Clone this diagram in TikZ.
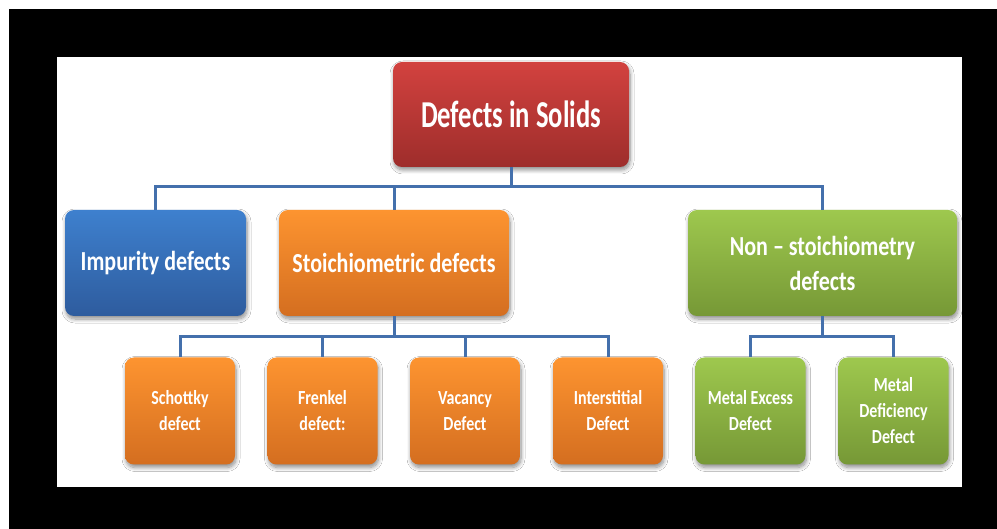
\documentclass[tikz,border=0pt]{standalone}
\usepackage{fontspec}
\newfontfamily\boxfont[FakeStretch=0.8]{Carlito}
\newfontfamily\headfont[FakeStretch=0.7]{Carlito}
\usetikzlibrary{shadows.blur}

\definecolor{redtop}{RGB}{210,66,63}
\definecolor{redbot}{RGB}{158,45,43}
\definecolor{bluetop}{RGB}{62,128,206}
\definecolor{bluebot}{RGB}{46,92,158}
\definecolor{orangetop}{RGB}{253,148,48}
\definecolor{orangebot}{RGB}{212,110,32}
\definecolor{greentop}{RGB}{158,200,78}
\definecolor{greenbot}{RGB}{118,152,54}
\definecolor{linkblue}{RGB}{68,112,172}

\begin{document}
\begin{tikzpicture}[x=1pt,y=-1pt,
  box/.style={rounded corners=9pt, align=center, text=white, inner sep=0pt,
    blur shadow={shadow xshift=1pt, shadow yshift=-3pt, shadow blur radius=4pt,
      shadow blur steps=8, shadow opacity=45}},
  headbox/.style={box, minimum width=236pt, minimum height=105pt,
    font=\headfont\bfseries\fontsize{38}{44}\selectfont,
    top color=redtop, bottom color=redbot},
  midbox/.style={box, minimum height=106pt,
    font=\boxfont\bfseries\fontsize{27.5}{35}\selectfont},
  leafbox/.style={box, minimum width=110pt, minimum height=107pt,
    font=\boxfont\bfseries\fontsize{20}{26}\selectfont},
  bluefill/.style={top color=bluetop, bottom color=bluebot},
  orangefill/.style={top color=orangetop, bottom color=orangebot},
  greenfill/.style={top color=greentop, bottom color=greenbot},
  link/.style={draw=linkblue, line width=3pt}]

% page and black frame
\fill[white] (0,0) rectangle (997,529);
\fill[black] (9,9) rectangle (997,529);
\fill[white] (57,57) rectangle (962,487);
\useasboundingbox (0,0) rectangle (997,529);

% bus levels
\coordinate (busA) at (0,187);
\coordinate (busB) at (0,337);

% nodes
\node[headbox] (root) at (511,114.5) {Defects in Solids};

\node[midbox, bluefill, minimum width=181pt] (imp) at (155.5,263) {Impurity defects};
\node[midbox, orangefill, minimum width=230pt] (sto) at (394,263) {Stoichiometric defects};
\node[midbox, greenfill, minimum width=269pt] (non) at (822.5,263) {Non – stoichiometry\\defects};

\node[leafbox, orangefill] (sch) at (180,411) {Schottky\\defect};
\node[leafbox, orangefill] (fre) at (322.5,411) {Frenkel\\defect:};
\node[leafbox, orangefill] (vac) at (465,411) {Vacancy\\Defect};
\node[leafbox, orangefill] (int) at (608,411) {Interstitial\\Defect};
\node[leafbox, greenfill] (mex) at (750.5,411) {Metal Excess\\Defect};
\node[leafbox, greenfill] (mdf) at (893.5,411) {Metal\\Deficiency\\Defect};

% connectors
\draw[link] (root.south) -- (root.south |- busA) -| (imp.north);
\draw[link] (root.south) -- (root.south |- busA) -| (sto.north);
\draw[link] (root.south) -- (root.south |- busA) -| (non.north);

\draw[link] (sto.south) -- (sto.south |- busB) -| (sch.north);
\draw[link] (sto.south) -- (sto.south |- busB) -| (fre.north);
\draw[link] (sto.south) -- (sto.south |- busB) -| (vac.north);
\draw[link] (sto.south) -- (sto.south |- busB) -| (int.north);

\draw[link] (non.south) -- (non.south |- busB) -| (mex.north);
\draw[link] (non.south) -- (non.south |- busB) -| (mdf.north);
\end{tikzpicture}
\end{document}
